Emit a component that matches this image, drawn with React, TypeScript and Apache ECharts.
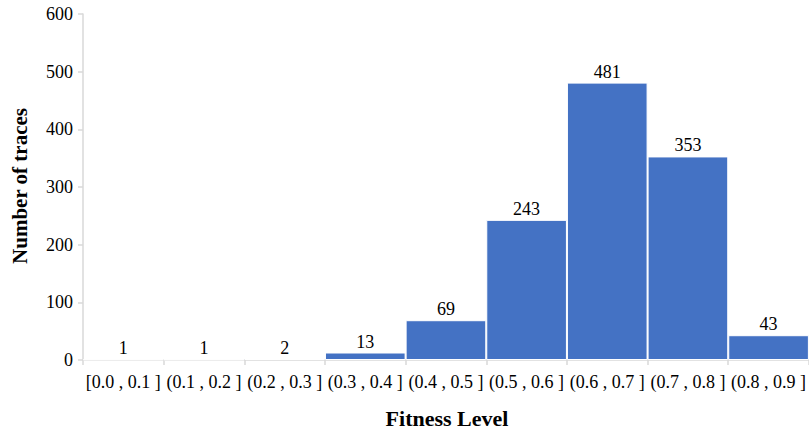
import React, { useEffect, useRef } from "react";
import * as echarts from "echarts";

const categories = [
  "[0.0 , 0.1 ]",
  "(0.1 , 0.2 ]",
  "(0.2 , 0.3 ]",
  "(0.3 , 0.4 ]",
  "(0.4 , 0.5 ]",
  "(0.5 , 0.6 ]",
  "(0.6 , 0.7 ]",
  "(0.7 , 0.8 ]",
  "(0.8 , 0.9 ]",
];
const traceCounts = [1, 1, 2, 13, 69, 243, 481, 353, 43];
const yTicks = { min: 0, max: 600, interval: 100 };
const xTitle = "Fitness Level";
const yTitle = "Number of traces";

const FONT = "Liberation Serif";

export default function App() {
  const ref = useRef<HTMLDivElement>(null);
  useEffect(() => {
    if (!ref.current) return;
    const chart = echarts.init(ref.current, null, { renderer: "svg" });
    chart.setOption({
      animation: false,
      backgroundColor: "#ffffff",
      textStyle: { fontFamily: FONT },
      grid: { left: 83, top: 14, width: 727, height: 346, containLabel: false },
      xAxis: {
        type: "category",
        data: categories,
        boundaryGap: true,
        axisLine: { show: true, lineStyle: { color: "#d9d9d9", width: 1.5 } },
        axisTick: { show: true, length: 5, lineStyle: { color: "#d9d9d9", width: 1.5 } },
        axisLabel: {
          interval: 0,
          margin: 13,
          fontFamily: FONT,
          fontSize: 18,
          color: "#000",
        },
        splitLine: { show: false },
      },
      yAxis: {
        type: "value",
        min: yTicks.min,
        max: yTicks.max,
        interval: yTicks.interval,
        axisLine: { show: true, lineStyle: { color: "#d9d9d9", width: 1.5 } },
        axisTick: { show: true, length: 5, lineStyle: { color: "#d9d9d9", width: 1.5 } },
        axisLabel: {
          margin: 10,
          fontFamily: FONT,
          fontSize: 18,
          color: "#000",
        },
        splitLine: { show: false },
      },
      series: [
        {
          type: "bar",
          data: traceCounts,
          barWidth: "100%",
          barCategoryGap: "0%",
          itemStyle: { color: "#4472c4", borderColor: "#ffffff", borderWidth: 1 },
          label: {
            show: true,
            position: "top",
            distance: 2,
            fontFamily: FONT,
            fontSize: 18,
            color: "#000",
          },
        },
      ],
      graphic: [
        {
          type: "text",
          x: 447,
          y: 418,
          style: {
            text: xTitle,
            fontFamily: FONT,
            fontWeight: "bold",
            fontSize: 22,
            fill: "#000",
            align: "center",
            verticalAlign: "middle",
          },
        },
        {
          type: "text",
          x: 20,
          y: 186,
          rotation: Math.PI / 2,
          style: {
            text: yTitle,
            fontFamily: FONT,
            fontWeight: "bold",
            fontSize: 21,
            fill: "#000",
            align: "center",
            verticalAlign: "middle",
          },
        },
      ],
    });
    return () => chart.dispose();
  }, []);
  return (
    <div
      ref={ref}
      style={{ position: "fixed", left: 0, top: 0, width: 809, height: 430, background: "#fff" }}
    />
  );
}
